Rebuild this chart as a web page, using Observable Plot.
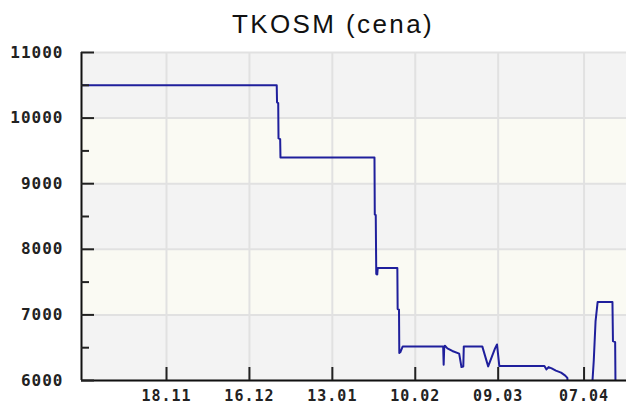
<!DOCTYPE html>
<html><head><meta charset="utf-8">
<script src="https://cdn.jsdelivr.net/npm/d3@7"></script>
<script src="https://cdn.jsdelivr.net/npm/@observablehq/plot@0.6"></script>
<style>
body{margin:0;background:#fff;}
#wrap{position:relative;width:626px;height:406px;}
#title{position:absolute;left:40px;width:586px;top:11px;text-align:center;font-family:"Liberation Sans",Arial,sans-serif;font-size:26px;line-height:26px;letter-spacing:2.4px;color:#111;}
</style></head><body>
<div id="wrap"><div id="chart"></div><div id="title"></div></div>
<script>
const chartTitle = "TKOSM (cena)";
const times = [
  "2007-10-20T07:00","2007-12-25T05:17","2007-12-25T07:41","2007-12-25T17:17","2007-12-25T19:41",
  "2007-12-26T09:07","2007-12-26T11:31","2008-01-27T05:31","2008-01-27T07:55","2008-01-27T15:50",
  "2008-01-27T19:55","2008-01-28T03:50","2008-01-28T07:55","2008-02-03T22:48","2008-02-04T01:12",
  "2008-02-04T12:14","2008-02-04T14:38","2008-02-04T22:34","2008-02-05T18:29","2008-02-19T10:05",
  "2008-02-19T14:10","2008-02-19T18:58","2008-02-20T00:29","2008-02-20T20:24","2008-02-22T12:14",
  "2008-02-24T19:55","2008-02-25T14:24","2008-02-26T05:17","2008-02-26T09:22","2008-03-03T15:07",
  "2008-03-05T14:53","2008-03-07T22:34","2008-03-08T14:24","2008-03-09T09:22","2008-03-24T14:38",
  "2008-03-25T07:26","2008-03-26T00:29","2008-03-27T01:41","2008-03-28T11:31","2008-03-30T05:46",
  "2008-03-31T15:36","2008-04-01T08:38","2008-04-01T17:02","2008-04-09T13:41","2008-04-10T06:43",
  "2008-04-10T21:07","2008-04-11T13:55","2008-04-16T14:10","2008-04-16T18:14","2008-04-17T12:00",
  "2008-04-17T15:22"
];
const prices = [
  10500,10500,10240,10230,9690,
  9680,9400,9400,8530,8520,
  7625,7615,7715,7715,7090,
  7080,6420,6430,6520,6520,
  6240,6520,6530,6490,6450,
  6410,6205,6213,6520,6520,
  6215,6490,6550,6220,6220,
  6170,6205,6185,6150,6120,
  6075,6040,5800,5800,6305,
  6900,7195,7195,6600,6585,
  5800
];
const yMajorTicks = [6000, 7000, 8000, 9000, 10000, 11000];
const yMinorTicks = [6500, 7500, 8500, 9500, 10500];
const xTickDates = ["2007-11-18T00:00","2007-12-16T00:00","2008-01-13T00:00","2008-02-10T00:00","2008-03-09T00:00","2008-04-07T00:00"];
const xTickLabels = ["18.11","16.12","13.01","10.02","09.03","07.04"];
const xDomain = ["2007-10-20T07:00","2008-04-21T08:00"];
const yDomain = [6000, 11000];
const bandEdges = [6000, 7000, 8000, 9000, 10000, 11000];

document.getElementById("title").textContent = chartTitle;

const parse = d3.utcParse("%Y-%m-%dT%H:%M");
const data = times.map((t, i) => ({t: parse(t), v: prices[i]}));
const tickDates = xTickDates.map(parse);
const labelByTime = new Map(tickDates.map((d, i) => [+d, xTickLabels[i]]));
const xDom = xDomain.map(parse);
const bands = bandEdges.slice(0, -1).map((y1, i) => ({y1, y2: bandEdges[i + 1], x1: xDom[0], x2: xDom[1], k: i % 2}));

const chart = Plot.plot({
  width: 626, height: 406,
  marginTop: 52, marginBottom: 26, marginLeft: 81, marginRight: 0,
  style: {background: "transparent", fontFamily: "'DejaVu Sans Mono', monospace", fontSize: "16px", fontWeight: "bold", letterSpacing: "1px", color: "#222", overflow: "visible"},
  x: {type: "utc", domain: xDom},
  y: {domain: yDomain},
  marks: [
    Plot.rect(bands.filter(b => b.k === 0), {x1: "x1", x2: "x2", y1: "y1", y2: "y2", fill: "#f3f3f3"}),
    Plot.rect(bands.filter(b => b.k === 1), {x1: "x1", x2: "x2", y1: "y1", y2: "y2", fill: "#fafaf3"}),
    Plot.ruleY(yMajorTicks, {stroke: "#e1e1e1", strokeWidth: 2}),
    Plot.ruleX(tickDates, {stroke: "#e1e1e1", strokeWidth: 2}),
    Plot.line(data, {x: "t", y: "v", stroke: "#1f1f9c", strokeWidth: 2, clip: true}),
    Plot.ruleX([xDom[0]], {stroke: "#111", strokeWidth: 2}),
    Plot.ruleY([yDomain[0]], {stroke: "#111", strokeWidth: 2}),
    Plot.axisY(yMajorTicks, {tickSize: -13, fill: "none", stroke: "#222", strokeWidth: 2, label: null}),
    Plot.axisY(yMinorTicks, {tickSize: -8, fill: "none", stroke: "#222", strokeWidth: 2, label: null}),
    Plot.axisY(yMajorTicks, {tickSize: 0, tickPadding: 18, tickFormat: d => String(d), fill: "#222", label: null}),
    Plot.axisX(tickDates, {tickSize: -13, fill: "none", stroke: "#222", strokeWidth: 2, label: null}),
    Plot.axisX(tickDates, {tickSize: 0, tickPadding: 10, fontSize: 15, tickFormat: d => labelByTime.get(+d), fill: "#222", label: null})
  ]
});
document.getElementById("chart").appendChild(chart);
</script>
</body></html>
